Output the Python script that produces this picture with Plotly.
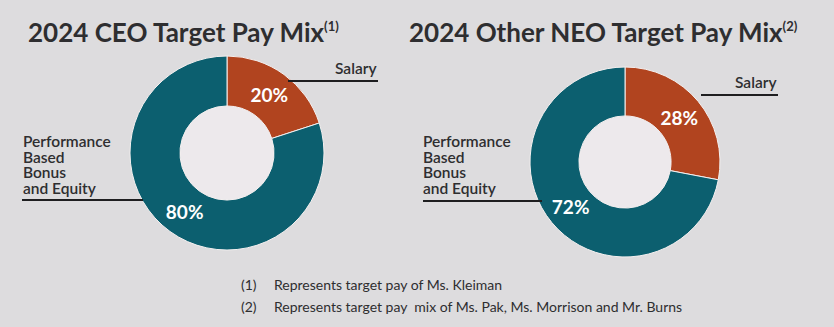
import plotly.graph_objects as go

W, H = 834, 327

# Data
labels = ["Salary", "Performance Based Bonus and Equity"]
ceo_values = [20, 80]
neo_values = [28, 72]
titles = ["2024 CEO Target Pay Mix", "2024 Other NEO Target Pay Mix"]
title_notes = ["(1)", "(2)"]
perf_lines = ["Performance", "Based", "Bonus", "and Equity"]
footnote_nums = ["(1)", "(2)"]
footnote_texts = ["Represents target pay of Ms. Kleiman",
                  "Represents target pay\u00a0 mix of Ms. Pak, Ms. Morrison and Mr. Burns"]

BG = "#dddcde"
TEAL = "#0c5f6f"
RUST = "#b1441f"
HOLE = "#ede9ec"
TXT = "#2e2e30"


def px(x):
    return x / W


def py(y):
    return 1 - y / H


# pie geometry (pixels)
pies = [
    dict(cx=227, cy=153, r=97, values=ceo_values),
    dict(cx=625, cy=162, r=95, values=neo_values),
]

fig = go.Figure()
shapes = []
for p in pies:
    cx, cy, r = p["cx"], p["cy"], p["r"]
    fig.add_trace(go.Pie(
        labels=labels,
        values=p["values"],
        sort=False,
        direction="clockwise",
        rotation=0,
        hole=0.485,
        domain=dict(x=[px(cx - r), px(cx + r)], y=[py(cy + r), py(cy - r)]),
        marker=dict(colors=[RUST, TEAL], line=dict(color="#f4f0f0", width=1)),
        textinfo="percent",
        texttemplate="%{percent:.0%}",
        textposition="inside",
        insidetextorientation="horizontal",
        insidetextfont=dict(family="Lato", size=19, color="white", weight="bold"),
        hoverinfo="skip",
        showlegend=False,
    ))
    hr = r * 0.485
    shapes.append(dict(type="circle", xref="paper", yref="paper", layer="below",
                       x0=px(cx - hr), x1=px(cx + hr), y0=py(cy + hr), y1=py(cy - hr),
                       fillcolor=HOLE, line=dict(width=0)))

# leader lines
line_style = dict(color="#1e1e20", width=2)
for (x0, x1, y) in [(288, 378, 81), (22, 143, 200), (701, 778, 95), (423, 542, 201)]:
    shapes.append(dict(type="line", xref="paper", yref="paper",
                       x0=px(x0), x1=px(x1), y0=py(y), y1=py(y), line=line_style))

annotations = []
# titles
for t, n, (x, y) in zip(titles, title_notes, [(26, 32), (407, 32)]):
    annotations.append(dict(text=t + "<sup><span style='font-size:13px'>" + n + "</span></sup>",
                            x=px(x), y=py(y), xref="paper", yref="paper",
                            xanchor="left", yanchor="middle", showarrow=False,
                            font=dict(family="Lato", size=26, color=TXT, weight="bold")))

# slice labels
lab_font = dict(family="Lato", size=15.5, color=TXT, weight=600)
for (x, y) in [(379, 67.5), (779, 82.5)]:
    annotations.append(dict(text=labels[0], x=px(x), y=py(y), xref="paper", yref="paper",
                            xanchor="right", yanchor="middle", showarrow=False, font=lab_font))
for x0 in [21, 421]:
    for txt, y in zip(perf_lines, [141, 157, 172.5, 188]):
        annotations.append(dict(text=txt, x=px(x0), y=py(y), xref="paper", yref="paper",
                                xanchor="left", yanchor="middle", align="left",
                                showarrow=False, font=lab_font))

# footnotes
fn_font = dict(family="Lato", size=14, color=TXT)
for n, t, y in zip(footnote_nums, footnote_texts, [284, 306]):
    annotations.append(dict(text=n, x=px(239), y=py(y), xref="paper", yref="paper",
                            xanchor="left", yanchor="middle", showarrow=False, font=fn_font))
    annotations.append(dict(text=t, x=px(272), y=py(y), xref="paper", yref="paper",
                            xanchor="left", yanchor="middle", showarrow=False, font=fn_font))

fig.update_layout(
    width=W, height=H,
    margin=dict(l=0, r=0, t=0, b=0),
    paper_bgcolor=BG, plot_bgcolor=BG,
    shapes=shapes, annotations=annotations,
    showlegend=False,
)

fig.write_html("out.html", config={"displayModeBar": False})
